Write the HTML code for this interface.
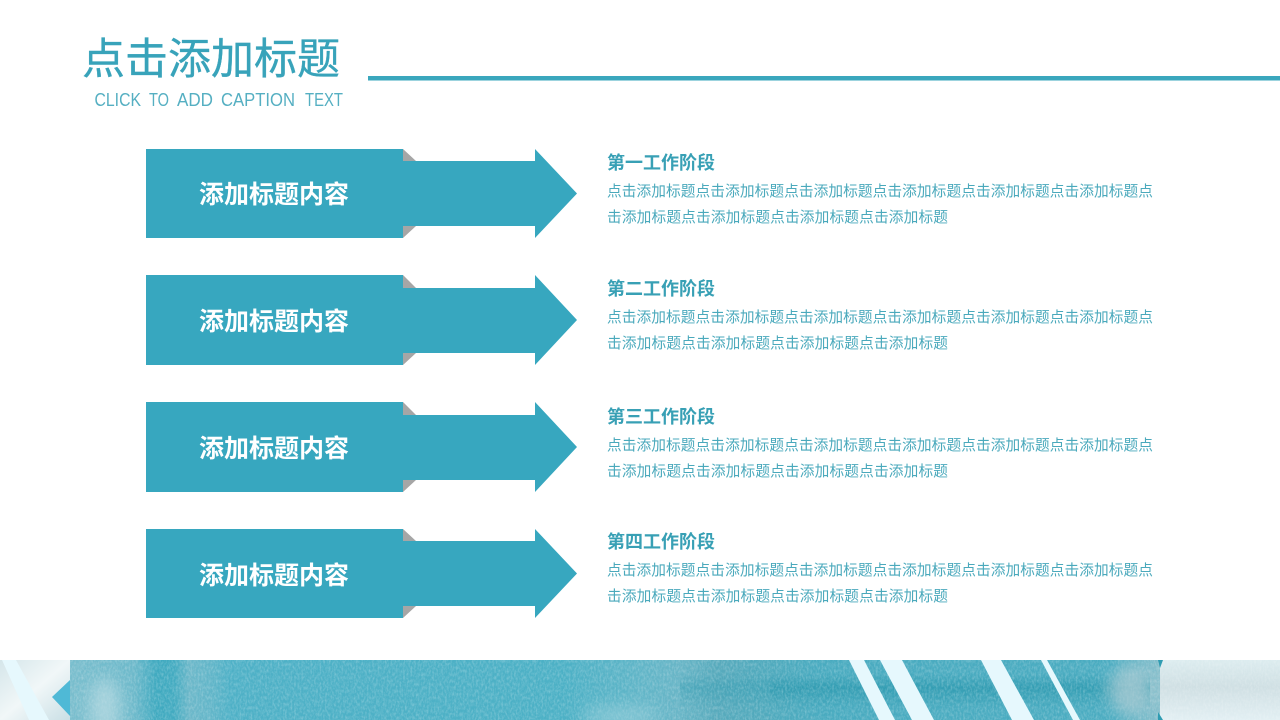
<!DOCTYPE html>
<html lang="zh-CN">
<head>
<meta charset="utf-8">
<title>点击添加标题</title>
<style>
html,body{margin:0;padding:0;width:1280px;height:720px;background:#fff;overflow:hidden}
svg{display:block}
text{font-family:"Liberation Sans","Noto Sans CJK SC",sans-serif}
.lab{font-size:25px;font-weight:700;fill:#fff}
.h{font-size:18px;font-weight:700;fill:#38a0b5}
.b{font-size:14.7px;fill:#4aa9bc}
.sub{font-size:18px;fill:#55afc2}
</style>
</head>
<body>
<svg width="1280" height="720" viewBox="0 0 1280 720" xmlns="http://www.w3.org/2000/svg">
<defs>
<linearGradient id="band" x1="0" x2="1" y1="0" y2="0">
<stop offset="0" stop-color="#7fc0cf"/>
<stop offset=".055" stop-color="#7dbecd"/>
<stop offset=".105" stop-color="#6fb9ca"/>
<stop offset=".122" stop-color="#3fa9bf"/>
<stop offset=".136" stop-color="#42aac0"/>
<stop offset=".148" stop-color="#6fb8c9"/>
<stop offset=".166" stop-color="#62b5c8"/>
<stop offset=".18" stop-color="#4eb0c6"/>
<stop offset=".44" stop-color="#4cb0c5"/>
<stop offset=".5" stop-color="#62b5c7"/>
<stop offset=".53" stop-color="#6ab5c6"/>
<stop offset=".56" stop-color="#58a9bb"/>
<stop offset=".6" stop-color="#50a9bc"/>
<stop offset=".64" stop-color="#49aabf"/>
<stop offset=".87" stop-color="#4aabc0"/>
<stop offset=".905" stop-color="#8abfcb"/>
<stop offset="1" stop-color="#8abfcb"/>
</linearGradient>
<linearGradient id="dark" x1="0" x2="0" y1="0" y2="1">
<stop offset="0" stop-color="#2a97ad" stop-opacity="0"/>
<stop offset=".4" stop-color="#2a97ad" stop-opacity=".75"/>
<stop offset="1" stop-color="#2a97ad" stop-opacity="0"/>
</linearGradient>
<linearGradient id="lightL" x1="0" x2="1" y1="0" y2="1">
<stop offset="0" stop-color="#d5e6ea"/>
<stop offset=".5" stop-color="#f1f7f8"/>
<stop offset="1" stop-color="#c9dfe5"/>
</linearGradient>
<linearGradient id="lightR" x1="0" x2="0" y1="0" y2="1">
<stop offset="0" stop-color="#dcecef"/>
<stop offset=".45" stop-color="#cfdfe3"/>
<stop offset="1" stop-color="#e2eff3"/>
</linearGradient>
<filter id="noise" x="0" y="0" width="100%" height="100%">
<feTurbulence type="fractalNoise" baseFrequency=".55 .3" numOctaves="3" seed="4"/>
<feColorMatrix type="matrix" values="0 0 0 0 1  0 0 0 0 1  0 0 0 0 1  0 0 0 1.6 -.6"/>
</filter>
<filter id="noiseD" x="0" y="0" width="100%" height="100%">
<feTurbulence type="fractalNoise" baseFrequency=".4 .5" numOctaves="2" seed="11"/>
<feColorMatrix type="matrix" values="0 0 0 0 .1  0 0 0 0 .5  0 0 0 0 .62  0 0 0 1.6 -.6"/>
</filter>
<filter id="soft" x="-100%" y="-200%" width="300%" height="500%"><feGaussianBlur stdDeviation="8"/></filter>
<clipPath id="bandClip"><rect x="0" y="660" width="1280" height="60"/></clipPath>
<polygon id="shaftTop" points="403,149 416,161 403,161" fill="#a6a6a6"/>
</defs>

<text x="82" y="74" font-size="43" fill="#38a3ba" stroke="#38a3ba" stroke-width=".35" textLength="258" lengthAdjust="spacingAndGlyphs">点击添加标题</text>
<text class="sub" x="94.5" y="106" textLength="46.5" lengthAdjust="spacingAndGlyphs">CLICK</text>
<text class="sub" x="149" y="106" textLength="20" lengthAdjust="spacingAndGlyphs">TO</text>
<text class="sub" x="177" y="106" textLength="36" lengthAdjust="spacingAndGlyphs">ADD</text>
<text class="sub" x="221" y="106" textLength="74" lengthAdjust="spacingAndGlyphs">CAPTION</text>
<text class="sub" x="305" y="106" textLength="38" lengthAdjust="spacingAndGlyphs">TEXT</text>
<rect x="368" y="76" width="912" height="4.5" fill="#3aa7bd"/>

<!-- row 1 -->
<polygon points="403,149 416,161 403,161" fill="#a6a6a6"/>
<polygon points="403,238 416,226 403,226" fill="#a6a6a6"/>
<rect x="146" y="149" width="257" height="89" fill="#37a7bf"/>
<polygon points="403,161 535,161 535,149 577,193.5 535,238 535,226 403,226" fill="#37a7bf"/>
<!-- row 2 -->
<polygon points="403,275 416,288 403,288" fill="#a6a6a6"/>
<polygon points="403,365 416,353 403,353" fill="#a6a6a6"/>
<rect x="146" y="275" width="257" height="90" fill="#37a7bf"/>
<polygon points="403,288 535,288 535,275 577,320 535,365 535,353 403,353" fill="#37a7bf"/>
<!-- row 3 -->
<polygon points="403,402 416,415 403,415" fill="#a6a6a6"/>
<polygon points="403,492 416,480 403,480" fill="#a6a6a6"/>
<rect x="146" y="402" width="257" height="90" fill="#37a7bf"/>
<polygon points="403,415 535,415 535,402 577,447 535,492 535,480 403,480" fill="#37a7bf"/>
<!-- row 4 -->
<polygon points="403,529 416,541 403,541" fill="#a6a6a6"/>
<polygon points="403,618 416,606 403,606" fill="#a6a6a6"/>
<rect x="146" y="529" width="257" height="89" fill="#37a7bf"/>
<polygon points="403,541 535,541 535,529 577,573.5 535,618 535,606 403,606" fill="#37a7bf"/>

<text class="lab" x="199" y="203">添加标题内容</text>
<text class="lab" x="199" y="330">添加标题内容</text>
<text class="lab" x="199" y="457">添加标题内容</text>
<text class="lab" x="199" y="584">添加标题内容</text>

<text class="h" x="607" y="169">第一工作阶段</text>
<text class="b" x="607" y="196" textLength="546">点击添加标题点击添加标题点击添加标题点击添加标题点击添加标题点击添加标题点</text>
<text class="b" x="607" y="222" textLength="341">击添加标题点击添加标题点击添加标题点击添加标题</text>

<text class="h" x="607" y="295">第二工作阶段</text>
<text class="b" x="607" y="322" textLength="546">点击添加标题点击添加标题点击添加标题点击添加标题点击添加标题点击添加标题点</text>
<text class="b" x="607" y="348" textLength="341">击添加标题点击添加标题点击添加标题点击添加标题</text>

<text class="h" x="607" y="423">第三工作阶段</text>
<text class="b" x="607" y="450" textLength="546">点击添加标题点击添加标题点击添加标题点击添加标题点击添加标题点击添加标题点</text>
<text class="b" x="607" y="476" textLength="341">击添加标题点击添加标题点击添加标题点击添加标题</text>

<text class="h" x="607" y="548">第四工作阶段</text>
<text class="b" x="607" y="575" textLength="546">点击添加标题点击添加标题点击添加标题点击添加标题点击添加标题点击添加标题点</text>
<text class="b" x="607" y="601" textLength="341">击添加标题点击添加标题点击添加标题点击添加标题</text>

<g clip-path="url(#bandClip)">
<rect x="0" y="660" width="1280" height="60" fill="url(#band)"/>
<rect x="770" y="674" width="380" height="34" fill="url(#dark)"/>
<rect x="680" y="674" width="90" height="34" fill="url(#dark)" opacity=".5"/>
<rect x="0" y="660" width="1280" height="60" filter="url(#noiseD)" opacity=".35"/>
<rect x="0" y="660" width="1280" height="60" filter="url(#noise)" opacity=".3"/>
<ellipse cx="105" cy="708" rx="16" ry="30" fill="#bcdde4" opacity=".7" filter="url(#soft)"/>
<ellipse cx="620" cy="716" rx="40" ry="10" fill="#a5d5df" opacity=".55" filter="url(#soft)"/>
<ellipse cx="1130" cy="690" rx="22" ry="24" fill="#b4cfd6" opacity=".7" filter="url(#soft)"/>
<rect x="0" y="660" width="70" height="60" fill="url(#lightL)"/>
<polygon points="2,660 16,660 49,720 29,720" fill="#e6f8fd"/>
<polygon points="70,680 52,697 70,716" fill="#4fb9d6"/>
<polygon points="849,660 864,660 895,720 879,720" fill="#e6f8fd"/>
<polygon points="880,660 902,660 934,720 912,720" fill="#e6f8fd"/>
<polygon points="981,660 1001,660 1034,720 1012,720" fill="#e6f8fd"/>
<polygon points="1041,660 1047,660 1080,720 1073,720" fill="#e6f8fd"/>
<rect x="1160" y="660" width="120" height="60" fill="url(#lightR)"/>
<rect x="1160" y="660" width="120" height="60" filter="url(#noise)" opacity=".25"/>
<polygon points="1158,660 1163,660 1160,668" fill="#2f9cb2"/>
<polygon points="1158,712 1163,720 1158,720" fill="#2f9cb2"/>
</g>
</svg>
</body>
</html>
